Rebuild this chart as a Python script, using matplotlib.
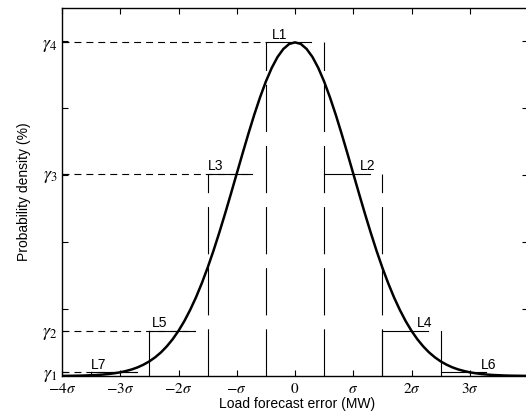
import numpy as np
import matplotlib
matplotlib.use('Agg')
import matplotlib.pyplot as plt

plt.rcParams['font.family'] = ['Liberation Sans', 'DejaVu Sans']
plt.rcParams['mathtext.fontset'] = 'stix'
plt.rcParams['lines.scale_dashes'] = False

# density of the load forecast error, read at 0.1 sigma steps from 0 to 4 sigma
half_density = [0.3989, 0.3970, 0.3910, 0.3814, 0.3683, 0.3521, 0.3332, 0.3123, 0.2897, 0.2661,
                0.2420, 0.2179, 0.1942, 0.1714, 0.1497, 0.1295, 0.1109, 0.0940, 0.0790, 0.0656,
                0.0540, 0.0440, 0.0355, 0.0283, 0.0224, 0.0175, 0.0136, 0.0104, 0.0079, 0.0060,
                0.0044, 0.0033, 0.0024, 0.0017, 0.0012, 0.0009, 0.0006, 0.0004, 0.0003, 0.0002,
                0.0001]
half_x = [i / 10 for i in range(41)]

# probability levels gamma1..gamma4
gamma = [0.0044, 0.054, 0.242, 0.3989]
gamma_labels = [r'$\gamma_1$', r'$\gamma_2$', r'$\gamma_3$', r'$\gamma_4$']

# load levels L1..L7: start of interval (in sigma), end of drawn segment, gamma index
level_names = ['L1', 'L2', 'L3', 'L4', 'L5', 'L6', 'L7']
level_start = [-0.5, 0.5, -1.5, 1.5, -2.5, 2.5, -3.5]
level_end = [0.27, 1.29, -0.73, 2.28, -1.72, 3.28, -2.72]
level_gamma = [3, 2, 2, 1, 1, 0, 0]
label_x = [-0.27, 1.25, -1.37, 2.22, -2.32, 3.33, -3.37]

# interval boundaries
dash_x = [-1.5, -0.5, 0.5, 1.5]
dash_gamma = [2, 3, 3, 2]
solid_x = [-3.5, -2.5, 1.5, 2.5]
solid_gamma = [0, 1, 1, 1]

x_ticks = [-4, -3, -2, -1, 0, 1, 2, 3]
x_tick_labels = [r'$-4\sigma$', r'$-3\sigma$', r'$-2\sigma$', r'$-\sigma$', r'$0$',
                 r'$\sigma$', r'$2\sigma$', r'$3\sigma$']
y_grid_ticks = [0.08, 0.16, 0.24, 0.32, 0.40]

x = [-v for v in half_x[::-1]] + half_x[1:]
density = half_density[::-1] + half_density[1:]

fig = plt.figure(figsize=(5.26, 4.18), dpi=100)
ax = fig.add_axes([62 / 526, 42 / 418, 466 / 526, 368 / 418])

# dashed guide lines to the y axis
for k in range(4):
    ends = [level_end[i] for i in range(7) if level_gamma[i] == k and level_start[i] < 0]
    ax.plot([-4, min(ends) if k != 3 else -0.5], [gamma[k], gamma[k]],
            color='black', lw=0.8, ls=(0, (5, 3.6)))

# long dashed interval boundaries, drawn from the bottom up
for xv, g in zip(dash_x, dash_gamma):
    ax.plot([xv, xv], [0, gamma[g]], color='black', lw=0.8, ls=(0, (34, 10)))

for xv, g in zip(solid_x, solid_gamma):
    ax.plot([xv, xv], [0, gamma[g]], color='black', lw=0.8)

for name, s, e, g, lx in zip(level_names, level_start, level_end, level_gamma, label_x):
    ax.plot([s, e], [gamma[g], gamma[g]], color='black', lw=0.8)
    ax.annotate(name, (lx, gamma[g]), xytext=(0, 2.5), textcoords='offset points',
                ha='center', va='baseline', fontsize=10)

ax.plot(x, density, color='black', lw=1.8)

ax.set_xlim(-4, 4)
ax.set_ylim(0, 0.44)
ax.set_xticks(x_ticks)
ax.set_xticklabels(x_tick_labels, fontsize=11)
ax.set_yticks(gamma)
ax.set_yticklabels(gamma_labels, fontsize=13)
ax.set_yticks(y_grid_ticks, minor=True)
ax.tick_params(which='both', direction='in', length=4, width=0.8)
ax.tick_params(axis='x', top=True, pad=4)
ax.tick_params(axis='y', which='major', right=False, pad=3)
ax.tick_params(axis='y', which='minor', left=True, right=True)
for sp in ax.spines.values():
    sp.set_linewidth(1.0)

ax.set_xlabel('Load forecast error (MW)', fontsize=10)
ax.set_ylabel('Probability density (%)', fontsize=10)
ax.xaxis.set_label_coords(0.504, -0.058)
ax.yaxis.set_label_coords(-0.066, 0.5)

fig.savefig('out.png', dpi=100)
